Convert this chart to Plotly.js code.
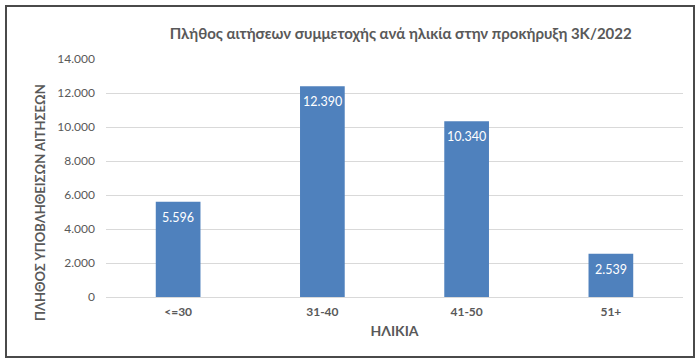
<!DOCTYPE html>
<html>
<head>
<meta charset="utf-8">
<script src="https://cdn.plot.ly/plotly-3.0.1.min.js"></script>
<style>
html,body{margin:0;padding:0;background:#fff;}
#frame{position:absolute;left:5px;top:5px;width:686px;height:349px;border:2px solid #4a4a4a;background:#fff;}
#chart{width:686px;height:349px;}
</style>
</head>
<body>
<div id="frame"><div id="chart"></div></div>
<script>
var categories = ['<=30', '31-40', '41-50', '51+'];
var applications = [5596, 12390, 10340, 2539];
var yTicks = [0, 2000, 4000, 6000, 8000, 10000, 12000, 14000];

function fmt(v) {
  return String(v).replace(/\B(?=(\d{3})+(?!\d))/g, '.');
}

var trace = {
  type: 'bar',
  x: categories,
  y: applications,
  marker: {color: '#4f81bd'},
  width: 0.31,
  hoverinfo: 'x+y'
};

var labelAnnotations = categories.map(function (c, i) {
  return {
    x: c, y: applications[i], xref: 'x', yref: 'y',
    text: fmt(applications[i]),
    showarrow: false, yanchor: 'top', yshift: -6,
    font: {color: '#ffffff', size: 12.5, family: 'Lato, sans-serif'}
  };
});

labelAnnotations.push({
  xref: 'paper', yref: 'paper', x: 0, y: 0.395, xshift: -66,
  xanchor: 'center', yanchor: 'middle', textangle: -90,
  text: '<b>ΠΛΗΘΟΣ ΥΠΟΒΛΗΘΕΙΣΩΝ ΑΙΤΗΣΕΩΝ</b>',
  showarrow: false,
  font: {size: 13, color: '#595959', family: 'Lato, sans-serif'}
});

var layout = {
  width: 686,
  height: 349,
  separators: ',.',
  paper_bgcolor: '#ffffff',
  plot_bgcolor: '#ffffff',
  margin: {l: 99, r: 10, t: 52, b: 59},
  font: {family: 'Lato, sans-serif', color: '#595959'},
  title: {
    text: '<b>Πλήθος αιτήσεων συμμετοχής ανά ηλικία στην προκήρυξη 3Κ/2022</b>',
    font: {size: 15, color: '#595959', family: 'Lato, sans-serif'},
    xref: 'container', yref: 'container',
    x: 0.574, y: 0.922, xanchor: 'center', yanchor: 'middle'
  },
  xaxis: {
    type: 'category',
    showgrid: false,
    showline: true,
    linecolor: '#d9d9d9',
    linewidth: 1,
    ticks: '',
    ticklabelstandoff: 4,
    tickfont: {size: 12, color: '#595959', family: 'Lato, sans-serif', weight: 'bold'},
    title: {text: '<b>ΗΛΙΚΙΑ</b>', font: {size: 14, color: '#595959', family: 'Lato, sans-serif'}, standoff: 7}
  },
  yaxis: {
    range: [0, 14000],
    tickvals: yTicks,
    tickformat: ',d',
    showgrid: true,
    gridcolor: '#d9d9d9',
    zeroline: false,
    showline: false,
    ticks: '',
    ticklabelstandoff: 10,
    tickfont: {size: 12, color: '#595959', family: 'Lato, sans-serif'}
  },
  annotations: labelAnnotations,
  bargap: 0.69,
  showlegend: false
};

Plotly.newPlot('chart', [trace], layout, {displayModeBar: false, staticPlot: true});
</script>
</body>
</html>
